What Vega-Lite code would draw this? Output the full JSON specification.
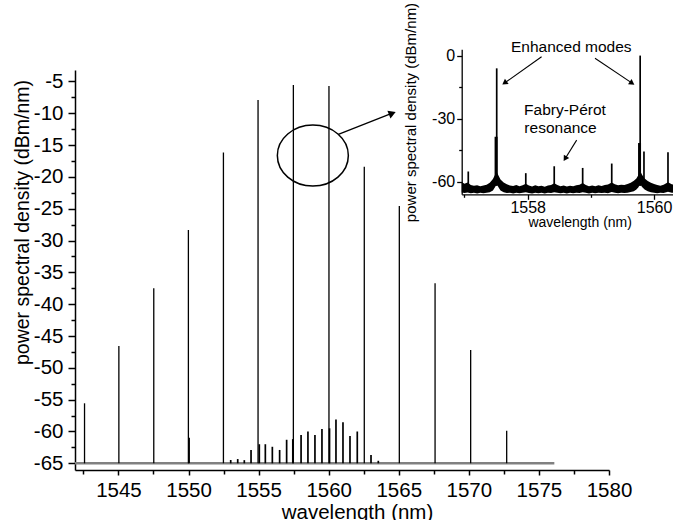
{
  "$schema": "https://vega.github.io/schema/vega-lite/v6.json",
  "width": 534,
  "height": 400,
  "autosize": {"type": "none"},
  "padding": {"left": 75, "top": 70, "right": 64, "bottom": 50},
  "background": "white",
  "config": {
    "view": {"stroke": null},
    "font": "Liberation Sans",
    "axis": {"grid": false, "domainColor": "black", "tickColor": "black", "labelColor": "black", "titleColor": "black", "titleFontWeight": "normal", "labelFlush": false, "labelOverlap": false, "labelBound": false, "labelFont": "Liberation Sans", "titleFont": "Liberation Sans"}
  },
  "datasets": {
    "main": [
      {"x": 1542.58, "y": -55.57}, {"x": 1545.03, "y": -46.57}, {"x": 1547.52, "y": -37.5},
      {"x": 1549.99, "y": -28.34}, {"x": 1552.49, "y": -16.16}, {"x": 1554.96, "y": -7.91},
      {"x": 1557.48, "y": -5.56}, {"x": 1560.02, "y": -5.71}, {"x": 1562.54, "y": -18.39},
      {"x": 1565.04, "y": -24.57}, {"x": 1567.59, "y": -36.72}, {"x": 1570.13, "y": -47.2},
      {"x": 1572.7, "y": -59.9}
    ],
    "fp": [
      {"x": 1550.04, "y": -61.0}, {"x": 1553.01, "y": -64.48}, {"x": 1553.51, "y": -64.33},
      {"x": 1553.98, "y": -64.5}, {"x": 1554.46, "y": -62.9}, {"x": 1555.05, "y": -62.0},
      {"x": 1555.48, "y": -62.0}, {"x": 1555.98, "y": -62.4}, {"x": 1556.5, "y": -62.9},
      {"x": 1557.0, "y": -61.3}, {"x": 1557.44, "y": -61.2}, {"x": 1558.03, "y": -60.55},
      {"x": 1558.52, "y": -60.0}, {"x": 1559.02, "y": -60.55}, {"x": 1559.52, "y": -59.6},
      {"x": 1560.06, "y": -59.5}, {"x": 1560.52, "y": -58.1}, {"x": 1561.02, "y": -58.55},
      {"x": 1561.52, "y": -60.7}, {"x": 1562.04, "y": -60.0}, {"x": 1563.02, "y": -63.7},
      {"x": 1563.54, "y": -64.6}
    ],
    "base": [{"x": 1541.9, "x2": 1576.1, "y": -65}],
    "ell": [{"x": 1558.87, "y": -16.64}],
    "marrow": [{"x": 1560.69, "y": -13.3, "x2": 1564.54, "y2": -9.99}],
    "band": [
      {"x": 1556.956, "y2": -65.2, "y": -60.2}, {"x": 1557.0, "y2": -65.5, "y": -61.0},
      {"x": 1557.05, "y2": -65.2, "y": -60.5}, {"x": 1557.1, "y2": -65.6, "y": -61.6},
      {"x": 1557.15, "y2": -65.3, "y": -62.0}, {"x": 1557.2, "y2": -65.7, "y": -61.8},
      {"x": 1557.25, "y2": -65.4, "y": -62.2}, {"x": 1557.3, "y2": -65.6, "y": -61.9},
      {"x": 1557.35, "y2": -65.3, "y": -61.5}, {"x": 1557.4, "y2": -65.1, "y": -60.6},
      {"x": 1557.45, "y2": -64.3, "y": -58.8}, {"x": 1557.48, "y2": -62.8, "y": -57.0},
      {"x": 1557.51, "y2": -61.3, "y": -55.5}, {"x": 1557.54, "y2": -62.8, "y": -57.2},
      {"x": 1557.57, "y2": -64.3, "y": -59.0}, {"x": 1557.62, "y2": -65.1, "y": -60.5},
      {"x": 1557.67, "y2": -65.5, "y": -61.3}, {"x": 1557.72, "y2": -65.3, "y": -61.9},
      {"x": 1557.77, "y2": -65.7, "y": -62.1}, {"x": 1557.82, "y2": -65.4, "y": -61.7},
      {"x": 1557.87, "y2": -65.6, "y": -62.3}, {"x": 1557.92, "y2": -65.3, "y": -61.8},
      {"x": 1557.97, "y2": -65.1, "y": -61.0}, {"x": 1558.02, "y2": -65.5, "y": -61.9},
      {"x": 1558.07, "y2": -65.7, "y": -62.4}, {"x": 1558.12, "y2": -65.3, "y": -61.8},
      {"x": 1558.17, "y2": -65.6, "y": -62.2}, {"x": 1558.22, "y2": -65.4, "y": -62.0},
      {"x": 1558.27, "y2": -65.7, "y": -62.5}, {"x": 1558.32, "y2": -65.3, "y": -61.9},
      {"x": 1558.37, "y2": -65.5, "y": -61.6}, {"x": 1558.42, "y2": -65.1, "y": -60.8},
      {"x": 1558.47, "y2": -65.4, "y": -61.7}, {"x": 1558.52, "y2": -65.6, "y": -62.3},
      {"x": 1558.57, "y2": -65.3, "y": -61.9}, {"x": 1558.62, "y2": -65.7, "y": -62.4},
      {"x": 1558.67, "y2": -65.4, "y": -62.0}, {"x": 1558.72, "y2": -65.6, "y": -62.2},
      {"x": 1558.77, "y2": -65.3, "y": -61.8}, {"x": 1558.82, "y2": -65.5, "y": -61.5},
      {"x": 1558.87, "y2": -65.1, "y": -60.7}, {"x": 1558.92, "y2": -65.4, "y": -61.6},
      {"x": 1558.97, "y2": -65.7, "y": -62.2}, {"x": 1559.02, "y2": -65.3, "y": -61.9},
      {"x": 1559.07, "y2": -65.6, "y": -62.3}, {"x": 1559.12, "y2": -65.4, "y": -61.8},
      {"x": 1559.17, "y2": -65.5, "y": -62.1}, {"x": 1559.22, "y2": -65.3, "y": -61.7},
      {"x": 1559.27, "y2": -65.6, "y": -61.4}, {"x": 1559.33, "y2": -65.0, "y": -60.5},
      {"x": 1559.38, "y2": -65.4, "y": -61.3}, {"x": 1559.43, "y2": -65.6, "y": -61.8},
      {"x": 1559.48, "y2": -65.3, "y": -61.5}, {"x": 1559.53, "y2": -65.5, "y": -61.6},
      {"x": 1559.58, "y2": -65.3, "y": -61.2}, {"x": 1559.63, "y2": -65.0, "y": -60.6},
      {"x": 1559.68, "y2": -64.6, "y": -59.6}, {"x": 1559.72, "y2": -63.8, "y": -58.5},
      {"x": 1559.75, "y2": -62.8, "y": -57.0}, {"x": 1559.78, "y2": -61.3, "y": -55.0},
      {"x": 1559.81, "y2": -62.6, "y": -56.8}, {"x": 1559.85, "y2": -63.8, "y": -58.6},
      {"x": 1559.9, "y2": -64.7, "y": -59.8}, {"x": 1559.95, "y2": -65.1, "y": -60.6},
      {"x": 1560.0, "y2": -65.4, "y": -61.2}, {"x": 1560.05, "y2": -65.6, "y": -61.6},
      {"x": 1560.1, "y2": -65.3, "y": -62.0}, {"x": 1560.15, "y2": -65.5, "y": -61.5},
      {"x": 1560.22, "y2": -64.9, "y": -60.4}, {"x": 1560.28, "y2": -65.4, "y": -61.3},
      {"x": 1560.35, "y2": -65.3, "y": -61.6}
    ],
    "ispk": [
      {"x": 1557.06, "y": -55.2}, {"x": 1557.51, "y": -5.9}, {"x": 1557.97, "y": -56.0},
      {"x": 1558.42, "y": -52.7}, {"x": 1558.87, "y": -53.5}, {"x": 1559.33, "y": -51.4},
      {"x": 1559.78, "y": 0.2}, {"x": 1559.84, "y": -45.6}, {"x": 1560.22, "y": -46.0}
    ],
    "ishoulder": [{"x": 1557.5, "y": -38.6}, {"x": 1559.77, "y": -41.6}],
    "itext": [
      {"x": 1558.69, "y": 4.45, "t": "Enhanced modes"},
      {"x": 1558.59, "y": -25.8, "t": "Fabry-Pérot"},
      {"x": 1558.52, "y": -34.6, "t": "resonance"}
    ],
    "iarrow": [
      {"id": "left", "x": 1558.22, "y": -0.33, "x2": 1557.634, "y2": -12.91},
      {"id": "right", "x": 1559.065, "y": -1.1, "x2": 1559.652, "y2": -12.96},
      {"id": "fp", "x": 1558.775, "y": -40.2, "x2": 1558.592, "y2": -49.11}
    ]
  },
  "layer": [
    {
      "layer": [
        {
          "data": {"name": "base"},
          "mark": {"type": "rule", "color": "#808080", "strokeWidth": 2.6},
          "encoding": {
            "x": {"field": "x", "type": "quantitative", "scale": {"domain": [1541.9, 1580], "nice": false, "zero": false},
              "axis": {"orient": "bottom", "title": "wavelength (nm)", "tickCount": 100, "values": [1542.5, 1545, 1547.5, 1550, 1552.5, 1555, 1557.5, 1560, 1562.5, 1565, 1567.5, 1570, 1572.5, 1575, 1577.5, 1580],
                "labelExpr": "datum.value % 5 === 0 ? '' + datum.value : ''", "labelOverlap": false, "labelFlush": false, "labelBound": false,
                "tickSize": {"condition": {"test": "datum.value % 5 !== 0", "value": 4}, "value": 5},
                "tickWidth": 1.5, "domainWidth": 1.5, "labelFontSize": 20.5, "labelPadding": 5,
                "titleFontSize": 20.5, "titleX": 282, "titleY": 48, "titleBaseline": "alphabetic", "titleAlign": "center"}},
            "x2": {"field": "x2"},
            "y": {"field": "y", "type": "quantitative", "scale": {"domain": [-66.05, -3.2], "nice": false, "zero": false},
              "axis": {"orient": "left", "title": "power spectral density (dBm/nm)", "tickCount": 100,
                "values": [-65, -62.5, -60, -57.5, -55, -52.5, -50, -47.5, -45, -42.5, -40, -37.5, -35, -32.5, -30, -27.5, -25, -22.5, -20, -17.5, -15, -12.5, -10, -7.5, -5],
                "labelExpr": "datum.value % 5 === 0 ? '' + datum.value : ''", "labelOverlap": false, "labelFlush": false, "labelBound": false,
                "tickSize": {"condition": {"test": "datum.value % 5 !== 0", "value": 4}, "value": 7},
                "tickWidth": 1.5, "domainWidth": 1.5, "labelFontSize": 20.5, "labelPadding": 5,
                "titleFontSize": 19.5, "titleX": -53, "titleY": 152, "titleBaseline": "middle", "titleAlign": "center", "titleAngle": 270}}
          }
        },
        {
          "data": {"name": "main"},
          "mark": {"type": "rule", "color": "black", "strokeWidth": 1.3},
          "encoding": {
            "x": {"field": "x", "type": "quantitative", "scale": {"domain": [1541.9, 1580], "nice": false, "zero": false}},
            "y": {"field": "y", "type": "quantitative", "scale": {"domain": [-66.05, -3.2], "nice": false, "zero": false}},
            "y2": {"datum": -65}
          }
        },
        {
          "data": {"name": "fp"},
          "mark": {"type": "rule", "color": "black", "strokeWidth": 1.7},
          "encoding": {
            "x": {"field": "x", "type": "quantitative", "scale": {"domain": [1541.9, 1580], "nice": false, "zero": false}},
            "y": {"field": "y", "type": "quantitative", "scale": {"domain": [-66.05, -3.2], "nice": false, "zero": false}},
            "y2": {"datum": -65}
          }
        },
        {
          "data": {"name": "ell"},
          "mark": {"type": "point", "shape": "M1,0C1,0.475,0.552,0.86,0,0.86C-0.552,0.86,-1,0.475,-1,0C-1,-0.475,-0.552,-0.86,0,-0.86C0.552,-0.86,1,-0.475,1,0Z", "size": 5041, "filled": false, "stroke": "black", "strokeWidth": 1.5, "opacity": 1},
          "encoding": {
            "x": {"field": "x", "type": "quantitative", "scale": {"domain": [1541.9, 1580], "nice": false, "zero": false}},
            "y": {"field": "y", "type": "quantitative", "scale": {"domain": [-66.05, -3.2], "nice": false, "zero": false}}
          }
        },
        {
          "data": {"name": "marrow"},
          "mark": {"type": "rule", "color": "black", "strokeWidth": 1.3},
          "encoding": {
            "x": {"field": "x", "type": "quantitative", "scale": {"domain": [1541.9, 1580], "nice": false, "zero": false}},
            "y": {"field": "y", "type": "quantitative", "scale": {"domain": [-66.05, -3.2], "nice": false, "zero": false}},
            "x2": {"field": "x2"},
            "y2": {"field": "y2"}
          }
        },
        {
          "data": {"name": "marrow"},
          "mark": {"type": "point", "shape": "triangle-right", "size": 70, "filled": true, "color": "black", "opacity": 1, "angle": -21.4},
          "encoding": {
            "x": {"field": "x2", "type": "quantitative", "scale": {"domain": [1541.9, 1580], "nice": false, "zero": false}},
            "y": {"field": "y2", "type": "quantitative", "scale": {"domain": [-66.05, -3.2], "nice": false, "zero": false}}
          }
        }
      ]
    },
    {
      "layer": [
        {
          "data": {"name": "band"},
          "mark": {"type": "area", "color": "black", "opacity": 1},
          "encoding": {
            "x": {"field": "x", "type": "quantitative", "scale": {"domain": [1556.956, 1560.35], "range": [386.7, 601.2], "nice": false, "zero": false},
              "axis": {"orient": "bottom", "offset": -275.7, "title": "wavelength (nm)", "tickCount": 100, "values": [1557, 1558, 1559, 1560],
                "labelExpr": "datum.value % 2 === 0 ? '' + datum.value : ''", "labelOverlap": false, "labelFlush": false, "labelBound": false,
                "tickSize": {"condition": {"test": "datum.value % 2 !== 0", "value": 3}, "value": 5},
                "tickWidth": 1.3, "domainWidth": 1.3, "labelFontSize": 16, "labelPadding": 0,
                "titleFontSize": 14, "titleX": 504.7, "titleY": 31.7, "titleBaseline": "alphabetic", "titleAlign": "center"}},
            "y": {"field": "y", "type": "quantitative", "scale": {"domain": [-66.1, 3.2], "range": [124.3, -20.7], "nice": false, "zero": false},
              "axis": {"orient": "left", "offset": -386.7, "title": "power spectral density (dBm/nm)", "tickCount": 100, "values": [-60, -45, -30, -15, 0],
                "labelExpr": "datum.value % 30 === 0 ? '' + datum.value : ''", "labelOverlap": false, "labelFlush": false, "labelBound": false,
                "tickSize": {"condition": {"test": "datum.value % 30 !== 0", "value": 3}, "value": 5},
                "tickWidth": 1.3, "domainWidth": 1.3, "labelFontSize": 16, "labelPadding": 2,
                "titleFontSize": 15, "titleX": -51.7, "titleY": 42, "titleBaseline": "middle", "titleAlign": "center", "titleAngle": 270}},
            "y2": {"field": "y2"}
          }
        },
        {
          "data": {"name": "ispk"},
          "mark": {"type": "rule", "color": "black", "strokeWidth": 1.7},
          "encoding": {
            "x": {"field": "x", "type": "quantitative", "scale": {"domain": [1556.956, 1560.35], "range": [386.7, 601.2], "nice": false, "zero": false}},
            "y": {"field": "y", "type": "quantitative", "scale": {"domain": [-66.1, 3.2], "range": [124.3, -20.7], "nice": false, "zero": false}},
            "y2": {"datum": -62}
          }
        },
        {
          "data": {"name": "ishoulder"},
          "mark": {"type": "rule", "color": "black", "strokeWidth": 3},
          "encoding": {
            "x": {"field": "x", "type": "quantitative", "scale": {"domain": [1556.956, 1560.35], "range": [386.7, 601.2], "nice": false, "zero": false}},
            "y": {"field": "y", "type": "quantitative", "scale": {"domain": [-66.1, 3.2], "range": [124.3, -20.7], "nice": false, "zero": false}},
            "y2": {"datum": -62}
          }
        },
        {
          "data": {"name": "itext"},
          "mark": {"type": "text", "color": "black", "fontSize": 15.5, "align": "center", "baseline": "middle", "font": "Liberation Sans"},
          "encoding": {
            "x": {"field": "x", "type": "quantitative", "scale": {"domain": [1556.956, 1560.35], "range": [386.7, 601.2], "nice": false, "zero": false}},
            "y": {"field": "y", "type": "quantitative", "scale": {"domain": [-66.1, 3.2], "range": [124.3, -20.7], "nice": false, "zero": false}},
            "text": {"field": "t"}
          }
        },
        {
          "data": {"name": "iarrow"},
          "mark": {"type": "rule", "color": "black", "strokeWidth": 1.1},
          "encoding": {
            "x": {"field": "x", "type": "quantitative", "scale": {"domain": [1556.956, 1560.35], "range": [386.7, 601.2], "nice": false, "zero": false}},
            "y": {"field": "y", "type": "quantitative", "scale": {"domain": [-66.1, 3.2], "range": [124.3, -20.7], "nice": false, "zero": false}},
            "x2": {"field": "x2"},
            "y2": {"field": "y2"}
          }
        },
        {
          "data": {"name": "iarrow"},
          "transform": [{"filter": "datum.id === 'left'"}],
          "mark": {"type": "point", "shape": "triangle-right", "size": 40, "filled": true, "color": "black", "opacity": 1, "angle": 144.7},
          "encoding": {
            "x": {"field": "x2", "type": "quantitative", "scale": {"domain": [1556.956, 1560.35], "range": [386.7, 601.2], "nice": false, "zero": false}},
            "y": {"field": "y2", "type": "quantitative", "scale": {"domain": [-66.1, 3.2], "range": [124.3, -20.7], "nice": false, "zero": false}}
          }
        },
        {
          "data": {"name": "iarrow"},
          "transform": [{"filter": "datum.id === 'right'"}],
          "mark": {"type": "point", "shape": "triangle-right", "size": 40, "filled": true, "color": "black", "opacity": 1, "angle": 33.7},
          "encoding": {
            "x": {"field": "x2", "type": "quantitative", "scale": {"domain": [1556.956, 1560.35], "range": [386.7, 601.2], "nice": false, "zero": false}},
            "y": {"field": "y2", "type": "quantitative", "scale": {"domain": [-66.1, 3.2], "range": [124.3, -20.7], "nice": false, "zero": false}}
          }
        },
        {
          "data": {"name": "iarrow"},
          "transform": [{"filter": "datum.id === 'fp'"}],
          "mark": {"type": "point", "shape": "triangle-right", "size": 40, "filled": true, "color": "black", "opacity": 1, "angle": 121.7},
          "encoding": {
            "x": {"field": "x2", "type": "quantitative", "scale": {"domain": [1556.956, 1560.35], "range": [386.7, 601.2], "nice": false, "zero": false}},
            "y": {"field": "y2", "type": "quantitative", "scale": {"domain": [-66.1, 3.2], "range": [124.3, -20.7], "nice": false, "zero": false}}
          }
        }
      ]
    }
  ],
  "resolve": {"scale": {"x": "independent", "y": "independent"}, "axis": {"x": "independent", "y": "independent"}}
}
